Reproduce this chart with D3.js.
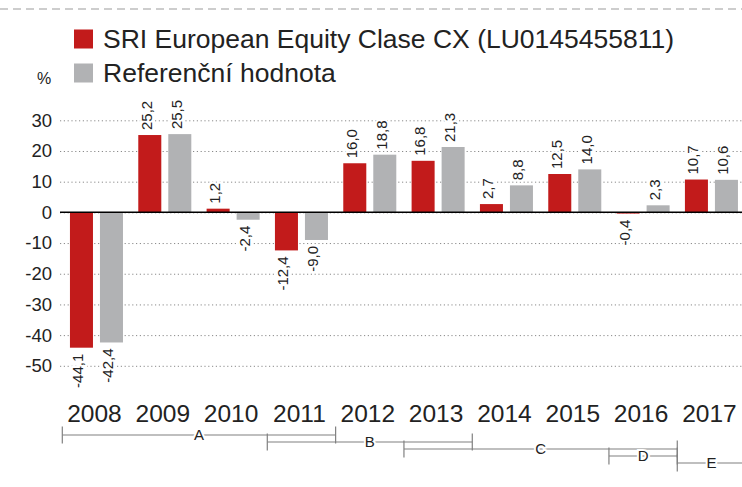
<!DOCTYPE html>
<html>
<head>
<meta charset="utf-8">
<script src="https://cdn.jsdelivr.net/npm/d3@7"></script>
<style>
  body { margin: 0; background: #fff; }
  svg { display: block; font-family: "Liberation Sans", Arial, Helvetica, sans-serif; }
</style>
</head>
<body>
<div id="chart"></div>
<script>
// data
const years = [2008, 2009, 2010, 2011, 2012, 2013, 2014, 2015, 2016, 2017];
const fund = [-44.1, 25.2, 1.2, -12.4, 16.0, 16.8, 2.7, 12.5, -0.4, 10.7];
const bench = [-42.4, 25.5, -2.4, -9.0, 18.8, 21.3, 8.8, 14.0, 2.3, 10.6];
const seriesNames = ["SRI European Equity Clase CX (LU0145455811)", "Referenční hodnota"];
const yTicks = [30, 20, 10, 0, -10, -20, -30, -40, -50];
const periods = ["A", "B", "C", "D", "E"];
const periodFrom = [2008, 2011, 2013, 2016, 2017];
const periodTo = [2011, 2013, 2016, 2016, 2017];

const width = 742, height = 487;
const colors = ["#c21b1b", "#b1b2b4"];
const textColor = "#222";

const cz = d3.formatLocale({ decimal: ",", thousands: " ", grouping: [3], currency: ["", " Kč"], minus: "-" });
const fmt1 = cz.format(".1f");
const fmt0 = cz.format("d");

const svg = d3.select("#chart").append("svg")
  .attr("width", width)
  .attr("height", height);

// dashed rule at the top
svg.append("line")
  .attr("x1", 0).attr("x2", width)
  .attr("y1", 9).attr("y2", 9)
  .attr("stroke", "#bdbdbd")
  .attr("stroke-width", 1.5)
  .attr("stroke-dasharray", "8,5");

let x0 = d3.scaleBand().domain(years).range([62.3, 745.6]).paddingInner(0.224).paddingOuter(0.112);
let x1 = d3.scaleBand().domain([0, 1]).range([0, x0.bandwidth()]).paddingInner(0.233);
let y = d3.scaleLinear().domain([-50, 30]).range([365.8, 120.3]);

// y axis + dotted grid
let yAxis = d3.axisLeft(y).tickValues(yTicks).tickSize(-(width - 60)).tickPadding(8).tickFormat(fmt0);
let gy = svg.append("g")
  .attr("transform", "translate(60,0)")
  .call(yAxis);
gy.select(".domain").remove();
gy.selectAll(".tick line")
  .attr("stroke", "#8a8a8a")
  .attr("stroke-dasharray", "1.2,2.6")
  .attr("stroke-width", 1);
gy.selectAll(".tick text")
  .attr("fill", textColor)
  .style("font-size", "18.5px");

// legend
const legend = svg.append("g");
seriesNames.forEach(function (name, i) {
  legend.append("rect")
    .attr("x", 74).attr("y", 29.5 + i * 34)
    .attr("width", 19).attr("height", 19)
    .attr("fill", colors[i]);
  legend.append("text")
    .attr("x", 103).attr("y", 48.3 + i * 34)
    .attr("fill", textColor)
    .style("font-size", "26.5px")
    .text(name);
});
svg.append("text")
  .attr("x", 37).attr("y", 83.5)
  .attr("fill", textColor)
  .style("font-size", "16px")
  .text("%");

// bars
const rows = years.map(function (d, i) { return { year: d, values: [fund[i], bench[i]] }; });

let groups = svg.selectAll("g.year")
  .data(rows)
  .enter().append("g")
  .attr("class", "year")
  .attr("transform", function (d) { return "translate(" + x0(d.year) + ",0)"; });

groups.selectAll("rect")
  .data(function (d) { return d.values.map(function (v, k) { return { k: k, v: v }; }); })
  .enter().append("rect")
  .attr("x", function (d) { return x1(d.k); })
  .attr("width", x1.bandwidth())
  .attr("y", function (d) { return y(Math.max(0, d.v)); })
  .attr("height", function (d) { return Math.abs(y(d.v) - y(0)); })
  .attr("fill", function (d) { return colors[d.k]; });

groups.selectAll("text.val")
  .data(function (d) { return d.values.map(function (v, k) { return { k: k, v: v }; }); })
  .enter().append("text")
  .attr("class", "val")
  .attr("transform", function (d) {
    let cx = x1(d.k) + x1.bandwidth() / 2;
    let cy = d.v >= 0 ? y(d.v) - 5 : y(d.v) + 6;
    return "translate(" + cx + "," + cy + ") rotate(-90)";
  })
  .attr("dy", "0.12em")
  .attr("text-anchor", function (d) { return d.v >= 0 ? "start" : "end"; })
  .attr("fill", textColor)
  .attr("stroke", "#fff")
  .attr("stroke-width", 4)
  .attr("paint-order", "stroke")
  .style("font-size", "15px")
  .text(function (d) { return fmt1(d.v); });

// zero line
svg.append("line")
  .attr("x1", 60).attr("x2", width)
  .attr("y1", y(0)).attr("y2", y(0))
  .attr("stroke", "#000")
  .attr("stroke-width", 1.5);

// year labels
svg.selectAll("text.yr")
  .data(years)
  .enter().append("text")
  .attr("class", "yr")
  .attr("x", function (d) { return x0(d) + x0.bandwidth() / 2 - 2; })
  .attr("y", 421.5)
  .attr("text-anchor", "middle")
  .attr("fill", textColor)
  .style("font-size", "24.5px")
  .text(function (d) { return d; });

// period brackets
const step = x0.step();
const left0 = x0(years[0]) - x0.paddingOuter() * step;
periods.forEach(function (p, i) {
  let xa = left0 + years.indexOf(periodFrom[i]) * step;
  let xb = left0 + (years.indexOf(periodTo[i]) + 1) * step;
  let ly = 435 + i * 7;
  let g = svg.append("g").attr("stroke", "#808080").attr("stroke-width", 1.2);
  g.append("line").attr("x1", xa).attr("x2", xb).attr("y1", ly).attr("y2", ly);
  g.append("line").attr("x1", xa).attr("x2", xa).attr("y1", ly - 8.5).attr("y2", ly + 8.5);
  g.append("line").attr("x1", xb).attr("x2", xb).attr("y1", ly - 8.5).attr("y2", ly + 8.5);
  svg.append("text")
    .attr("x", (xa + xb) / 2)
    .attr("y", ly)
    .attr("dy", "0.36em")
    .attr("text-anchor", "middle")
    .attr("fill", textColor)
    .attr("stroke", "#fff")
    .attr("stroke-width", 4)
    .attr("paint-order", "stroke")
    .style("font-size", "15px")
    .text(p);
});
</script>
</body>
</html>
